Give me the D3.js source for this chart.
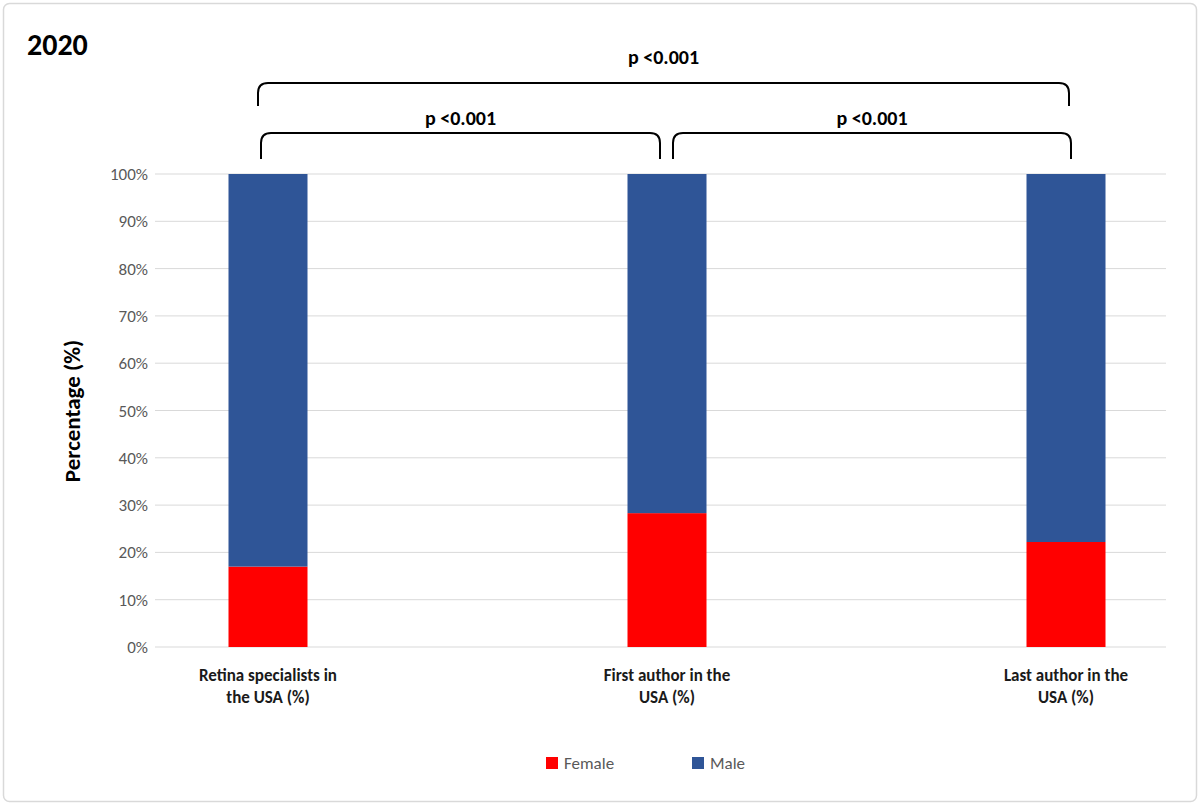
<!DOCTYPE html>
<html><head><meta charset="utf-8">
<script src="https://cdn.jsdelivr.net/npm/d3@7"></script>
<style>body{margin:0;background:#fff;font-family:Calibri,Carlito,"Liberation Sans",Arial,sans-serif}</style>
</head><body><div id="chart"></div>
<script>
// Categories and values
const categories = ["Retina specialists in the USA (%)", "First author in the USA (%)", "Last author in the USA (%)"];
const catLines = [["Retina specialists in", "the USA (%)"], ["First author in the", "USA (%)"], ["Last author in the", "USA (%)"]];
const female = [17, 28.3, 22.2];
const male = [83, 71.7, 77.8];
const yTicks = [0, 10, 20, 30, 40, 50, 60, 70, 80, 90, 100];
const seriesNames = ["Female", "Male"];
const colors = ["#ff0000", "#2f5597"];

const W = 1200, H = 805;
const svg = d3.select("#chart").append("svg").attr("width", W).attr("height", H);

svg.append("rect").attr("x", 3.5).attr("y", 3.5).attr("width", W - 7).attr("height", H - 7)
    .attr("rx", 6).attr("fill", "#fff").attr("stroke", "#d9d9d9").attr("stroke-width", 1.5);

const plotL = 155, plotR = 1166;
const x = d3.scalePoint().domain(categories).range([268, 1066]);
const y = d3.scaleLinear().domain([0, 100]).range([647, 174]);
const barW = 79;

// Gridlines
svg.selectAll(".grid").data(yTicks).enter().append("line")
    .attr("x1", plotL).attr("x2", plotR)
    .attr("y1", d => y(d)).attr("y2", d => y(d))
    .attr("stroke", "#d9d9d9").attr("stroke-width", 1);

// Y axis labels
svg.selectAll(".ytick").data(yTicks).enter().append("text")
    .attr("x", 148).attr("y", d => y(d) + 6)
    .attr("text-anchor", "end").attr("font-size", 17).attr("fill", "#595959")
    .text(d => d + "%");

// Stacked bars
const stack = categories.map((c, i) => ({ c, f: female[i], m: male[i] }));
svg.selectAll(".f").data(stack).enter().append("rect")
    .attr("x", d => x(d.c) - barW / 2).attr("width", barW)
    .attr("y", d => y(d.f)).attr("height", d => y(0) - y(d.f))
    .attr("fill", colors[0]);
svg.selectAll(".m").data(stack).enter().append("rect")
    .attr("x", d => x(d.c) - barW / 2).attr("width", barW)
    .attr("y", d => y(d.f + d.m)).attr("height", d => y(d.f) - y(d.f + d.m))
    .attr("fill", colors[1]);

// X labels
catLines.forEach((lines, i) => {
    const t = svg.append("text").attr("x", x(categories[i])).attr("y", 681)
        .attr("text-anchor", "middle").attr("font-size", 17).attr("font-weight", "bold").attr("fill", "#1a1a1a");
    lines.forEach((l, j) => t.append("tspan").attr("x", x(categories[i])).attr("dy", j ? 22 : 0).text(l));
});

// Y axis title
svg.append("text").attr("transform", "translate(80,411) rotate(-90)")
    .attr("text-anchor", "middle").attr("font-size", 23).attr("font-weight", "bold").text("Percentage (%)");

// Title
svg.append("text").attr("x", 27).attr("y", 55).attr("font-size", 30).attr("font-weight", "bold").text("2020");

// Significance brackets
function bracket(x1, x2, yTop, yBot, label, ly) {
    const r = 10, mid = (x1 + x2) / 2;
    svg.append("path").attr("fill", "none").attr("stroke", "#000").attr("stroke-width", 2)
        .attr("d", `M${x1},${yBot} L${x1},${yTop + r} Q${x1},${yTop} ${x1 + r},${yTop} L${x2 - r},${yTop} Q${x2},${yTop} ${x2},${yTop + r} L${x2},${yBot}`);
    svg.append("text").attr("x", mid).attr("y", ly).attr("text-anchor", "middle")
        .attr("font-size", 20).attr("font-weight", "bold").text(label);
}
bracket(x(categories[0]) - 10, x(categories[2]) + 3, 83, 106, "p <0.001", 64);
bracket(x(categories[0]) - 7, x(categories[1]) - 7, 133, 159, "p <0.001", 125);
bracket(x(categories[1]) + 6, x(categories[2]) + 5, 133, 159, "p <0.001", 125);

// Legend
const lx = [546, 692];
seriesNames.forEach((n, i) => {
    svg.append("rect").attr("x", lx[i]).attr("y", 757).attr("width", 12).attr("height", 12).attr("fill", colors[i]);
    svg.append("text").attr("x", lx[i] + 18).attr("y", 769).attr("font-size", 17).attr("fill", "#595959").text(n);
});
</script></body></html>
